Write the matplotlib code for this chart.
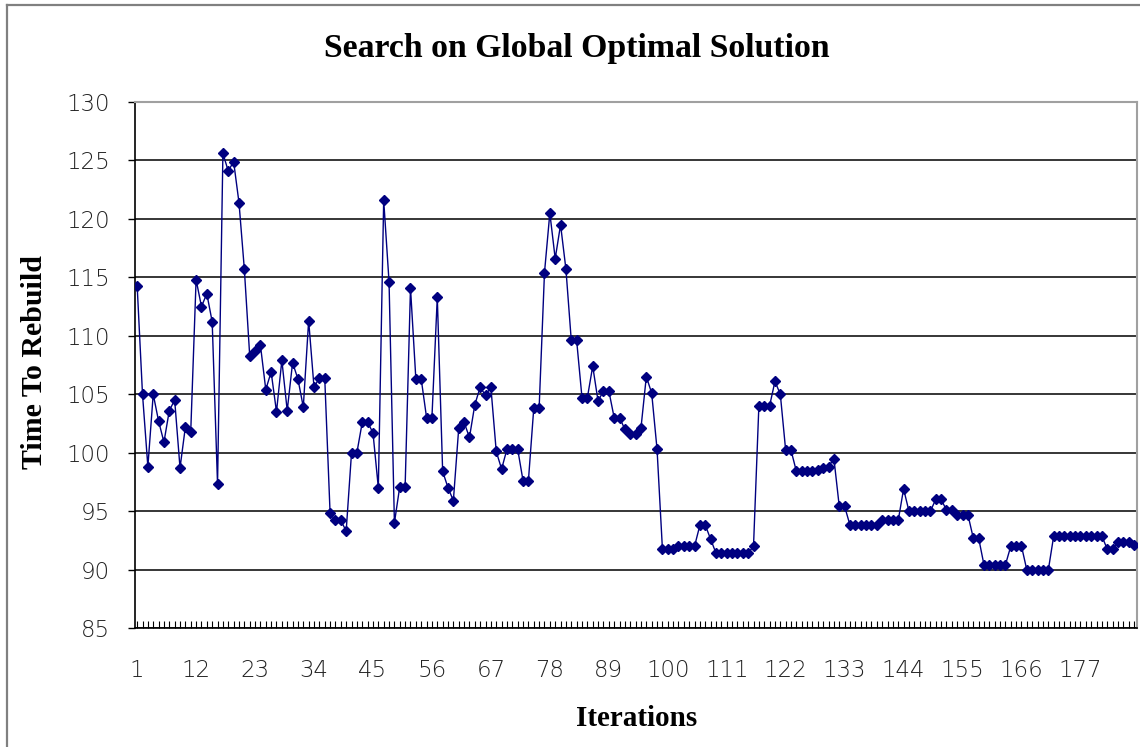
import matplotlib
matplotlib.use("Agg")
import matplotlib.pyplot as plt
from matplotlib.lines import Line2D

# Time-to-rebuild value found at each iteration of the search
time_to_rebuild = [
    114.3, 105.0, 98.8, 105.0, 102.7, 100.9, 103.6, 104.5, 98.7, 102.2,
    101.8, 114.8, 112.5, 113.6, 111.2, 97.3, 125.6, 124.1, 124.9, 121.4,
    115.7, 108.3, 108.7, 109.2, 105.4, 106.9, 103.5, 107.9, 103.6, 107.7,
    106.3, 103.9, 111.3, 105.6, 106.4, 106.4, 94.8, 94.2, 94.2, 93.3,
    100.0, 100.0, 102.6, 102.6, 101.7, 97.0, 121.6, 114.6, 94.0, 97.1,
    97.1, 114.1, 106.3, 106.3, 103.0, 103.0, 113.3, 98.4, 97.0, 95.9,
    102.1, 102.6, 101.3, 104.1, 105.6, 104.9, 105.6, 100.1, 98.6, 100.3,
    100.3, 100.3, 97.6, 97.6, 103.8, 103.8, 115.4, 120.5, 116.6, 119.5,
    115.7, 109.6, 109.6, 104.7, 104.7, 107.4, 104.4, 105.3, 105.3, 103.0,
    103.0, 102.0, 101.6, 101.6, 102.1, 106.5, 105.1, 100.3, 91.8, 91.8,
    91.8, 92.0, 92.0, 92.0, 92.0, 93.8, 93.8, 92.6, 91.4, 91.4,
    91.4, 91.4, 91.4, 91.4, 91.4, 92.0, 104.0, 104.0, 104.0, 106.1,
    105.0, 100.2, 100.2, 98.4, 98.4, 98.4, 98.4, 98.5, 98.7, 98.8,
    99.5, 95.4, 95.4, 93.8, 93.8, 93.8, 93.8, 93.8, 93.8, 94.2,
    94.2, 94.2, 94.2, 96.9, 95.0, 95.0, 95.0, 95.0, 95.0, 96.0,
    96.0, 95.1, 95.1, 94.7, 94.7, 94.7, 92.7, 92.7, 90.4, 90.4,
    90.4, 90.4, 90.4, 92.0, 92.0, 92.0, 89.95, 89.95, 89.95, 89.95,
    89.95, 92.85, 92.85, 92.85, 92.85, 92.85, 92.85, 92.85, 92.85, 92.85,
    92.85, 91.75, 91.75, 92.4, 92.4, 92.4, 92.1,
]
iterations = list(range(1, len(time_to_rebuild) + 1))
x_tick_labels = [str(i) for i in range(1, len(time_to_rebuild) + 1, 11)]
y_ticks = [85, 90, 95, 100, 105, 110, 115, 120, 125, 130]

title_text = "Search on Global Optimal Solution"
x_label = "Iterations"
y_label = "Time To Rebuild"

W, H = 1140, 747
fig = plt.figure(figsize=(W / 100, H / 100), dpi=100)
fig.patch.set_facecolor("white")

left, right, top, bottom = 135, 1137, 102, 628
ax = fig.add_axes([left / W, 1 - bottom / H, (right - left) / W, (bottom - top) / H])

navy = "#000080"
ax.plot(iterations, time_to_rebuild, color=navy, lw=1.0, marker="D",
        markersize=4.8, markerfacecolor=navy, markeredgecolor=navy, zorder=3)

ax.set_xlim(0.6, len(time_to_rebuild) + 0.55)
ax.set_ylim(85, 130)

# horizontal grid
ax.set_yticks(y_ticks)
ax.yaxis.grid(True, color="black", lw=1.1)
ax.set_axisbelow(True)

tick_font = dict(family="DejaVu Sans", size=16.5, weight="light", color="#222222")
ax.set_yticklabels([str(v) for v in y_ticks], **tick_font)
ax.tick_params(axis="y", direction="out", length=5, width=1, pad=13, color="black")

ax.set_xticks(iterations, minor=True)
ax.set_xticks(list(range(1, len(time_to_rebuild) + 1, 11)))
ax.set_xticklabels(x_tick_labels, **tick_font)
ax.tick_params(axis="x", which="both", direction="in", length=5, width=0.8,
               color="black", pad=22)

for side in ("top", "right"):
    ax.spines[side].set_color("#a0a0a0")
    ax.spines[side].set_linewidth(1.5)
for side in ("left", "bottom"):
    ax.spines[side].set_color("black")
    ax.spines[side].set_linewidth(1.2)

serif_bold = dict(family="Liberation Serif", weight="bold", color="black")
fig.text(577 / W, 1 - 49 / H, title_text, ha="center", va="center", size=24.3, **serif_bold)
fig.text(637 / W, 1 - 718 / H, x_label, ha="center", va="center", size=21, **serif_bold)
fig.text(35 / W, 1 - 362 / H, y_label, ha="center", va="center", size=21.5,
         rotation=90, **serif_bold)

# outer chart border
fig.add_artist(Line2D([7 / W, 7 / W], [0, 1 - 5 / H], transform=fig.transFigure,
                      color="#808080", lw=1.6))
fig.add_artist(Line2D([7 / W, 1], [1 - 5 / H, 1 - 5 / H], transform=fig.transFigure,
                      color="#808080", lw=1.6))

fig.savefig("out.png", dpi=100, facecolor="white")
